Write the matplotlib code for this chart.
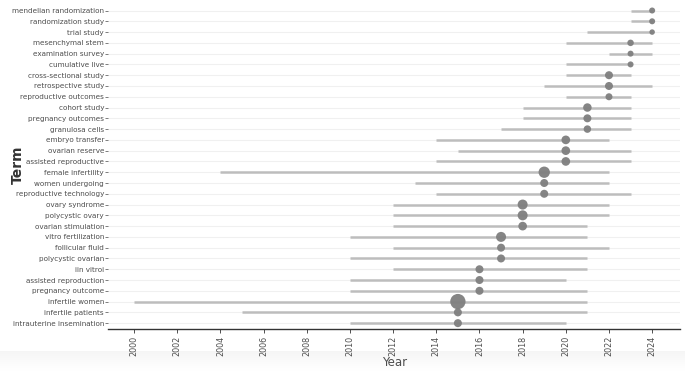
import numpy as np
import matplotlib.pyplot as plt


# DATA (top row first)
terms = ['mendelian randomization', 'randomization study', 'trial study', 'mesenchymal stem',
         'examination survey', 'cumulative live', 'cross-sectional study', 'retrospective study',
         'reproductive outcomes', 'cohort study', 'pregnancy outcomes', 'granulosa cells',
         'embryo transfer', 'ovarian reserve', 'assisted reproductive', 'female infertility',
         'women undergoing', 'reproductive technology', 'ovary syndrome', 'polycystic ovary',
         'ovarian stimulation', 'vitro fertilization', 'follicular fluid', 'polycystic ovarian',
         'iin vitroi', 'assisted reproduction', 'pregnancy outcome', 'infertile women',
         'infertile patients', 'intrauterine insemination']
year_q1 = [2023, 2023, 2021, 2020, 2022, 2020, 2020, 2019, 2020, 2018, 2018, 2017,
           2014, 2015, 2014, 2004, 2013, 2014, 2012, 2012, 2012, 2010, 2012, 2010,
           2012, 2010, 2010, 2000, 2005, 2010]
year_med = [2024, 2024, 2024, 2023, 2023, 2023, 2022, 2022, 2022, 2021, 2021, 2021,
            2020, 2020, 2020, 2019, 2019, 2019, 2018, 2018, 2018, 2017, 2017, 2017,
            2016, 2016, 2016, 2015, 2015, 2015]
year_q3 = [2024, 2024, 2024, 2024, 2024, 2023, 2023, 2024, 2023, 2023, 2023, 2023,
           2022, 2023, 2023, 2022, 2022, 2023, 2022, 2022, 2021, 2021, 2022, 2021,
           2021, 2020, 2021, 2021, 2021, 2020]
freq = [36, 36, 30, 42, 36, 36, 64, 64, 49, 72, 64, 56,
        75, 75, 75, 128, 64, 64, 100, 100, 75, 100, 64, 64,
        64, 64, 64, 234, 64, 64]
year_ticks = list(range(2000, 2025, 2))


n = len(terms)
ypos = np.arange(n)[::-1]

fig = plt.figure(figsize=(6.85, 3.71), dpi=100)

# faint grey shading along the bottom edge, like the screenshot
bg = fig.add_axes([0, 0, 1, 0.055], zorder=-5)
grad = np.linspace(1, 0, 50).reshape(-1, 1)
bg.imshow(grad, aspect='auto', cmap='Greys', vmin=0, vmax=12, extent=[0, 1, 0, 1])
bg.axis('off')

ax = fig.add_axes([0.158, 0.113, 0.835, 0.879])
ax.patch.set_alpha(0)

for y in ypos:
    ax.axhline(y, color='#f0f0f0', lw=0.8, zorder=0)

ax.hlines(ypos, year_q1, year_q3, color='#bdbdbd', lw=1.8, zorder=1)
ax.scatter(year_med, ypos, s=np.array(freq) * 0.52, color='#7f7f7f', alpha=0.95,
           edgecolors='none', zorder=2)

ax.set_xlim(1998.8, 2025.3)
ax.set_ylim(-0.55, 29.7)
ax.set_xticks(year_ticks)
ax.set_xticklabels([str(t) for t in year_ticks], rotation=90, fontsize=5.8, color='#4d4d4d')
ax.set_yticks(ypos)
ax.set_yticklabels(terms, fontsize=5.2, color='#4d4d4d')

for side in ['top', 'right', 'left']:
    ax.spines[side].set_visible(False)
ax.spines['bottom'].set_color('#333333')
ax.spines['bottom'].set_linewidth(1.0)
ax.tick_params(axis='y', length=2, width=0.6, color='#666666', pad=1)
ax.tick_params(axis='x', length=3, width=0.6, color='#333333', pad=2)

ax.set_xlabel('Year', fontsize=8.5, color='#4d4d4d')
ax.xaxis.set_label_coords(0.5, -0.104)
ax.xaxis.label.set_va('center')
ax.set_ylabel('Term', fontsize=10, fontweight='bold', color='#333333')
ax.yaxis.set_label_coords(-0.158, 0.503)
ax.yaxis.label.set_va('center')

fig.savefig('out.png', dpi=100)
